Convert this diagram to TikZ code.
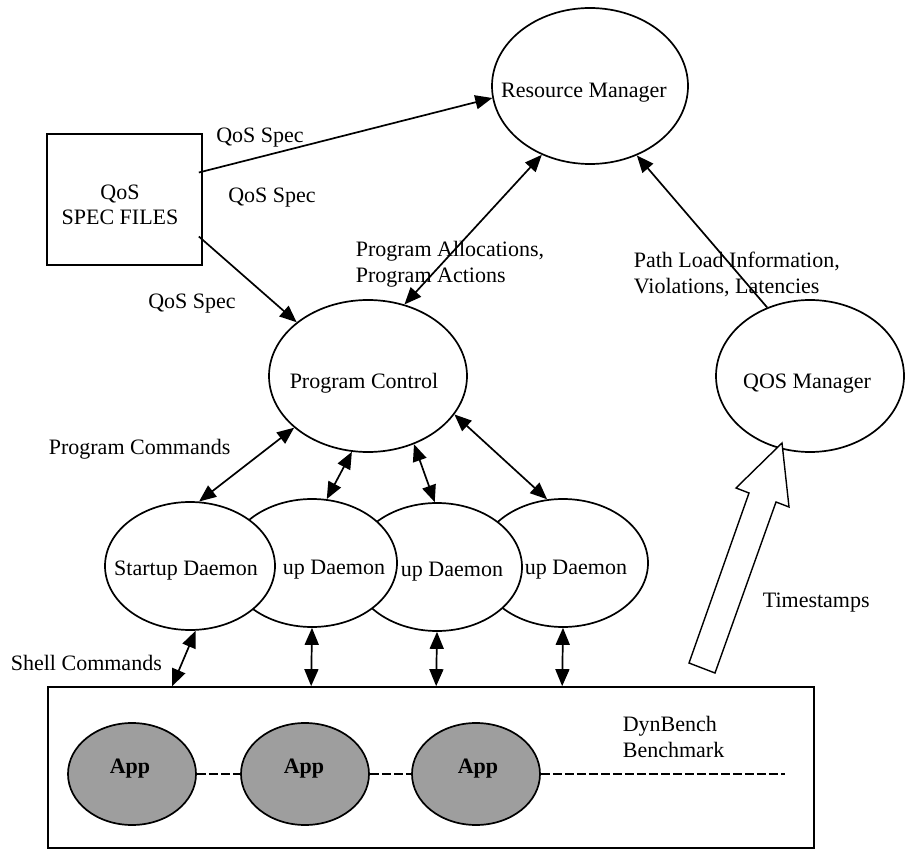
\documentclass[tikz,border=0pt]{standalone}
\usepackage{fontspec}
\setmainfont{Liberation Serif}
\usetikzlibrary{shapes.geometric,arrows.meta,calc}
\begin{document}
\begin{tikzpicture}[x=0.5pt,y=-0.5pt, line width=0.85pt,
  every node/.style={font=\fontsize{11}{13}\selectfont},
  ell/.style={draw, ellipse, inner sep=0pt, fill=white},
  appell/.style={draw, ellipse, inner sep=0pt, fill=black!38, minimum width=64pt, minimum height=51pt},
  dmn/.style={ell, minimum width=85pt, minimum height=64pt},
  txt/.style={inner sep=0pt, anchor=base},
  lbl/.style={inner sep=0pt, anchor=base west, align=left},
  one/.style={-{Triangle[length=8.5pt,width=7pt]}},
  two/.style={{Triangle[length=8.5pt,width=7pt]}-{Triangle[length=8.5pt,width=7pt]}},
  dashln/.style={line width=0.7pt, dash pattern=on 4.5pt off 1.5pt},
]
\useasboundingbox (0,0) rectangle (905,850);

% main nodes
\node[ell, minimum width=98pt, minimum height=78pt] (rm) at (590,86) {};
\node[txt] (rmt) at (584,98) {Resource Manager};

\node[draw, rectangle, inner sep=0pt, minimum width=77.5pt, minimum height=65.5pt] (spec) at (124.5,199.5) {};
\node[txt] (spect1) at (120,200) {QoS};
\node[txt] (spect2) at (120,225) {SPEC FILES};

\node[ell, minimum width=99pt, minimum height=76pt] (pc) at (368,376) {};
\node[txt] (pct) at (364,388) {Program Control};

\node[ell, minimum width=94pt, minimum height=76pt] (qosm) at (810,376) {};
\node[txt] (qosmt) at (807,388) {QOS Manager};

% daemons (right to left so that left ones overlap)
\node[dmn] (d4) at (563,563) {};
\node[txt] (d4t) at (576,574) {up Daemon};
\node[dmn] (d3) at (437,567) {};
\node[txt] (d3t) at (452,576) {up Daemon};
\node[dmn] (d2) at (312,563) {};
\node[txt] (d2t) at (334,574) {up Daemon};
\node[dmn] (d1) at (190,566) {};
\node[txt] (d1t) at (186,575) {Startup Daemon};

% benchmark box
\node[draw, rectangle, inner sep=0pt, minimum width=383pt, minimum height=80.5pt] (bench) at (431,767.5) {};
\node[lbl] (benchlbl) at (622,757) {DynBench\\Benchmark};

\node[appell] (app1) at (132,774) {};
\node[appell] (app2) at (305,774) {};
\node[appell] (app3) at (476,774) {};
\node[txt, font=\fontsize{11}{13}\selectfont\bfseries] (app1t) at (130,773) {App};
\node[txt, font=\fontsize{11}{13}\selectfont\bfseries] (app2t) at (304,773) {App};
\node[txt, font=\fontsize{11}{13}\selectfont\bfseries] (app3t) at (478,773) {App};
\coordinate (dashend) at (785,774);
\draw[dashln] (app1) -- (app2);
\draw[dashln] (app2) -- (app3);
\draw[dashln] (app3) -- (dashend);

% labels
\node[txt] (qs1) at (260,143) {QoS Spec};
\node[txt] (qs2) at (272,203) {QoS Spec};
\node[txt] (qs3) at (192,308) {QoS Spec};
\node[lbl] (alloc) at (355,283) {Program Allocations,\\Program Actions};
\node[lbl] (path) at (633,293) {Path Load Information,\\Violations, Latencies};
\node[lbl] (pcmd) at (48,454) {Program Commands};
\node[lbl] (scmd) at (10,670) {Shell Commands};
\node[lbl] (tstamp) at (762,607) {Timestamps};

% connectors
\draw[one] ($(spec.east)+(-4,-27)$) -- (rm.187);
\draw[one] ($(spec.east)+(-4,37)$) -- (pc.143);
\draw[two] (pc.63) -- (rm.235);
\draw[one] (qosm.122) -- (rm.304);

\draw[two] (pc.215) -- (d1.82);
\draw[two] (pc.258) -- (d2.77);
\draw[two] (pc.304) -- (d3.92);
\draw[two] (pc.336) -- (d4.104);

\draw[two] (d1.275) -- ($(bench.north west)+(125,0)$);
\draw[two] (d2.270) -- ($(bench.north west)+(264,0)$);
\draw[two] (d3.270) -- ($(bench.north west)+(389,0)$);
\draw[two] (d4.270) -- ($(bench.north west)+(515,0)$);

% hollow timestamp arrow
\draw[line width=0.7pt, fill=white, line join=miter]
  (782,443) -- (789,507) -- (776,502) -- (715,673) -- (689,663) -- (749,493) -- (736,488) -- cycle;
\end{tikzpicture}
\end{document}
